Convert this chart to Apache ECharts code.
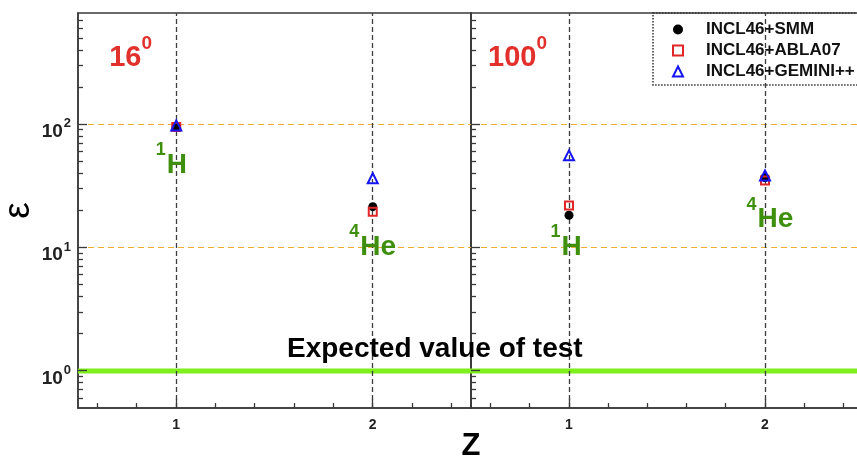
<!DOCTYPE html>
<html>
<head>
<meta charset="utf-8">
<script src="https://cdn.jsdelivr.net/npm/echarts@6/dist/echarts.min.js"></script>
<style>
html, body { margin: 0; padding: 0; background: #fff; }
#chart { width: 857px; height: 459px; }
</style>
</head>
<body>
<div id="chart"></div>
<script>
// Charge number of the emitted fragment
const zValues = [1, 2];

// Deviation factor epsilon at 16 degrees
const smm16 = [96, 21.5];
const abla16 = [95, 19.5];
const gemini16 = [98, 36.5];

// Deviation factor epsilon at 100 degrees
const smm100 = [18.3, 37];
const abla100 = [22, 35];
const gemini100 = [56, 38.5];

const seriesNames = ['INCL46+SMM', 'INCL46+ABLA07', 'INCL46+GEMINI++'];
const panelAngles = ['16', '100'];

// Reference levels
const expectedValue = 1;
const guideLevels = [10, 100];
const guideZ = [1, 2];

// Axis ranges and tick marks
const zRange = [0.5, 2.5];
const epsRange = [0.5, 800];
const epsMajorTicks = [1, 10, 100];
const epsMinorTicks = [0.6, 0.7, 0.8, 0.9, 2, 3, 4, 5, 6, 7, 8, 9, 20, 30, 40, 50, 60, 70, 80, 90, 200, 300, 400, 500, 600, 700];
const zMajorTicks = [1, 2];
const zMinorTicks = [0.6, 0.8, 1.2, 1.4, 1.6, 1.8, 2.2, 2.4];

const FONT = '"Liberation Sans", Arial, Helvetica, sans-serif';
const AXIS_COLOR = '#3a3a3a';
const ISOTOPE_GREEN = '#3f8f0f';
const ANGLE_RED = '#e2302c';

const chart = echarts.init(document.getElementById('chart'), null, { renderer: 'canvas' });

function pts(values) {
  return zValues.map((z, i) => [z, values[i]]);
}

function crisp(v) {
  return Math.round(v - 0.5) + 0.5;
}

// tick data: [z, eps, kind]; kind 0 = eps minor, 1 = eps major, 2 = z minor, 3 = z major
function tickData() {
  const d = [];
  epsMinorTicks.forEach(v => d.push([zRange[0], v, 0]));
  epsMajorTicks.forEach(v => d.push([zRange[0], v, 1]));
  zMinorTicks.forEach(v => d.push([v, epsRange[0], 2]));
  zMajorTicks.forEach(v => d.push([v, epsRange[0], 3]));
  return d;
}

function renderTick(params, api) {
  const p = api.coord([api.value(0), api.value(1)]);
  const kind = api.value(2);
  let x1 = p[0], y1 = p[1];
  if (kind <= 1) y1 = crisp(y1); else x1 = crisp(x1);
  let x2 = x1, y2 = y1;
  if (kind === 0) x2 += 5;
  else if (kind === 1) x2 += 9;
  else if (kind === 2) y2 -= 5;
  else y2 -= 9;
  return {
    type: 'line',
    shape: { x1: x1, y1: y1, x2: x2, y2: y2 },
    style: { stroke: AXIS_COLOR, lineWidth: 1.3 }
  };
}

// guide data: [z, eps, kind]; kind 0 = reference decade, 1 = expected value, 2 = Z column
function guideData() {
  const d = [];
  guideLevels.forEach(v => d.push([zRange[0], v, 0]));
  d.push([zRange[0], expectedValue, 1]);
  guideZ.forEach(v => d.push([v, epsRange[0], 2]));
  return d;
}

function renderGuide(params, api) {
  const kind = api.value(2);
  if (kind === 2) {
    const z = api.value(0);
    const a = api.coord([z, epsRange[0]]);
    const b = api.coord([z, epsRange[1]]);
    const x = crisp(a[0]);
    return {
      type: 'line', z2: 3,
      shape: { x1: x, y1: a[1], x2: x, y2: b[1] },
      style: { stroke: '#3c3c3c', lineWidth: 1.3, lineDash: [5, 3] }
    };
  }
  const v = api.value(1);
  const a = api.coord([zRange[0], v]);
  const b = api.coord([zRange[1], v]);
  if (kind === 1) {
    return {
      type: 'line', z2: 2,
      shape: { x1: a[0], y1: a[1], x2: b[0], y2: b[1] },
      style: { stroke: '#7eee1c', lineWidth: 5 }
    };
  }
  const y = crisp(a[1]);
  return {
    type: 'line', z2: 1,
    shape: { x1: a[0], y1: y, x2: b[0], y2: y },
    style: { stroke: '#f0ad36', lineWidth: 1.2, lineDash: [6, 4] }
  };
}

function isPow10(v) {
  const l = Math.log10(v);
  return Math.abs(l - Math.round(l)) < 1e-6;
}

function supRich(color, baseSize, supSize, lineH) {
  return {
    s: { fontSize: supSize, fontWeight: 'bold', fontFamily: FONT, color: color, verticalAlign: 'top', lineHeight: supSize + 2, padding: [0, 1, 0, 0] },
    b: { fontSize: baseSize, fontWeight: 'bold', fontFamily: FONT, color: color, verticalAlign: 'bottom', lineHeight: lineH }
  };
}
const isotopeRich = supRich(ISOTOPE_GREEN, 28, 18, 38);
const angleRich = supRich(ANGLE_RED, 29, 19, 38);

// isotope annotations, placed in data coordinates of each panel
const isotopeLabels = [
  [[0.975, 51, '{s|1}{b|H}'], [2.0, 11.0, '{s|4}{b|He}']],
  [[0.985, 11.0, '{s|1}{b|H}'], [2.025, 18.5, '{s|4}{b|He}']]
];
const angleLabels = [
  [[0.77, 375, '{b|' + panelAngles[0] + '}{s|0}']],
  [[0.74, 375, '{b|' + panelAngles[1] + '}{s|0}']]
];

const grids = [
  { left: 78, top: 13, width: 393, height: 395 },
  { left: 471, top: 13, width: 392, height: 395 }
];

const xAxes = grids.map((g, i) => ({
  type: 'value', gridIndex: i, min: zRange[0], max: zRange[1], interval: 0.5,
  axisLine: { show: true, onZero: false, lineStyle: { color: AXIS_COLOR, width: 1.5 } },
  axisTick: { show: false },
  splitLine: { show: false },
  axisLabel: {
    margin: 10, fontSize: 14, fontWeight: 'bold', fontFamily: FONT, color: '#222',
    formatter: v => (Math.abs(v - Math.round(v)) < 1e-6 && v >= 1 && v <= 2) ? String(Math.round(v)) : ''
  }
}));

const yAxes = grids.map((g, i) => ({
  type: 'log', logBase: 10, gridIndex: i, min: epsRange[0], max: epsRange[1],
  name: i === 0 ? 'ε' : '',
  nameLocation: 'middle', nameGap: 40,
  nameTextStyle: { fontSize: 37, fontFamily: FONT, color: '#000' },
  axisLine: { show: true, onZero: false, lineStyle: { color: AXIS_COLOR, width: 1.5 } },
  axisTick: { show: false },
  splitLine: { show: false },
  minorTick: { show: false },
  axisLabel: {
    show: i === 0, margin: 7, showMinLabel: false, showMaxLabel: false,
    padding: [10, 0, 0, 0],
    formatter: v => isPow10(v) ? '{b|10}{s|' + Math.round(Math.log10(v)) + '}' : '',
    rich: {
      b: { fontSize: 19, fontWeight: 'bold', fontFamily: FONT, color: '#222', verticalAlign: 'bottom', lineHeight: 24 },
      s: { fontSize: 13, fontWeight: 'bold', fontFamily: FONT, color: '#222', verticalAlign: 'top', lineHeight: 13, padding: [0, 0, 0, 1] }
    }
  }
}));

const series = [];
grids.forEach((g, i) => {
  series.push({
    type: 'custom', name: 'guides' + i, xAxisIndex: i, yAxisIndex: i, silent: true, clip: false, z: 1,
    renderItem: renderGuide, data: guideData(), encode: { x: 0, y: 1 }
  });
  series.push({
    type: 'custom', name: 'ticks' + i, xAxisIndex: i, yAxisIndex: i, silent: true, clip: false, z: 2,
    renderItem: renderTick, data: tickData(), encode: { x: 0, y: 1 }
  });
});

const panelData = [
  [smm16, abla16, gemini16],
  [smm100, abla100, gemini100]
];
panelData.forEach((sets, i) => {
  series.push({
    type: 'scatter', name: seriesNames[0], xAxisIndex: i, yAxisIndex: i, z: 5,
    symbol: 'circle', symbolSize: 9,
    itemStyle: { color: '#000', opacity: 1 },
    data: pts(sets[0])
  });
  series.push({
    type: 'scatter', name: seriesNames[1], xAxisIndex: i, yAxisIndex: i, z: 6,
    symbol: 'rect', symbolSize: 8,
    itemStyle: { color: 'rgba(255,255,255,0)', borderColor: '#e02626', borderWidth: 2, opacity: 1 },
    data: pts(sets[1])
  });
  series.push({
    type: 'scatter', name: seriesNames[2], xAxisIndex: i, yAxisIndex: i, z: 7,
    symbol: 'triangle', symbolSize: 10,
    itemStyle: { color: 'rgba(255,255,255,0)', borderColor: '#1414f5', borderWidth: 2, opacity: 1 },
    data: pts(sets[2])
  });
});

// text annotations drawn through the axes
function annotation(name, i, data, rich) {
  return {
    type: 'scatter', name: name, xAxisIndex: i, yAxisIndex: i, silent: true, z: 8,
    symbolSize: 1, itemStyle: { color: '#fff', opacity: 0 },
    label: { show: true, opacity: 1, position: 'inside', formatter: p => p.data[2], rich: rich },
    data: data
  };
}
[0, 1].forEach(i => {
  series.push(annotation('isotopes' + i, i, isotopeLabels[i], isotopeRich));
  series.push(annotation('angle' + i, i, angleLabels[i], angleRich));
});

chart.setOption({
  animation: false,
  backgroundColor: '#fff',
  grid: grids.map(g => Object.assign({ show: true, borderColor: AXIS_COLOR, borderWidth: 1.5, backgroundColor: 'transparent', outerBoundsMode: 'none', containLabel: false }, g)),
  xAxis: xAxes,
  yAxis: yAxes,
  legend: {
    orient: 'vertical', left: 653, top: 13,
    padding: [8, 40, 5, 19],
    itemWidth: 10, itemHeight: 10, itemGap: 4,
    borderColor: '#333', borderWidth: 1.5, borderType: 'dotted', backgroundColor: 'transparent',
    textStyle: { fontSize: 17, fontWeight: 'bold', fontFamily: FONT, color: '#111', lineHeight: 17, padding: [0, 0, 0, 18] },
    data: [
      { name: seriesNames[0], icon: 'circle' },
      { name: seriesNames[1], icon: 'rect' },
      { name: seriesNames[2], icon: 'triangle' }
    ]
  },
  graphic: [
    { type: 'text', silent: true, z: 10, style: { text: 'Expected value of test', x: 287, y: 349, fill: '#000', font: 'bold 28px ' + FONT, textAlign: 'left', textVerticalAlign: 'middle' } },
    { type: 'text', silent: true, z: 10, style: { text: 'Z', x: 471, y: 446, fill: '#000', font: 'bold 31px ' + FONT, textAlign: 'center', textVerticalAlign: 'middle' } }
  ],
  series: series
});
</script>
</body>
</html>
